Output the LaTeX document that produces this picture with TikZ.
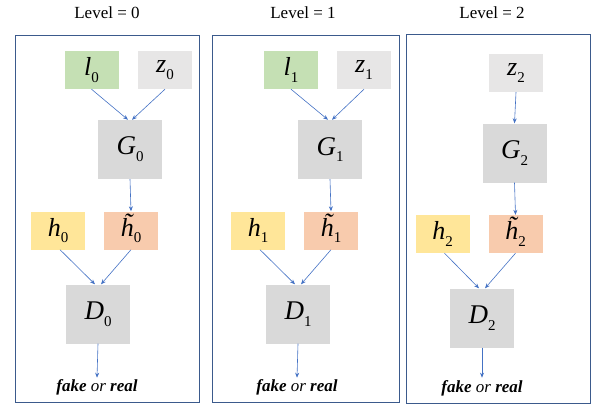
\documentclass[tikz,border=0pt]{standalone}
\usepackage{fontspec}
\setmainfont{Liberation Serif}
\usetikzlibrary{arrows.meta}
\definecolor{frameblue}{HTML}{3B5A8C}
\definecolor{arrblue}{HTML}{4472C4}
\definecolor{boxgreen}{HTML}{C5E0B4}
\definecolor{boxlight}{HTML}{E7E6E6}
\definecolor{boxgray}{HTML}{D9D9D9}
\definecolor{boxyellow}{HTML}{FFE699}
\definecolor{boxorange}{HTML}{F8CBAD}
\newcommand\subnum[1]{\raisebox{-0.25em}{\fontsize{15}{18}\selectfont #1}}
\newcommand\varsub[2]{\textit{#1}\subnum{#2}}
\newcommand\tildeh{\ooalign{\textit{h}\cr\hidewidth\kern0.12em\raisebox{0.2em}{\textit{\char"02DC}}\hidewidth\cr}}
\newcommand\tildesub[1]{\tildeh\subnum{#1}}
\begin{document}
\begin{tikzpicture}[x=1pt,y=-1pt,
  panel/.style={draw=frameblue,line width=0.9pt},
  smallbox/.style={minimum width=54pt,minimum height=38pt,inner sep=0pt,font=\fontsize{26}{30}\selectfont},
  bigbox/.style={fill=boxgray,minimum width=64pt,minimum height=59pt,inner sep=0pt,font=\fontsize{27}{30}\selectfont},
  lvl/.style={font=\fontsize{17}{20}\selectfont},
  verdict/.style={font=\fontsize{17}{20}\selectfont},
  conn/.style={draw=arrblue,line width=0.6pt,-{Stealth[length=5pt,width=4pt]}}]
\useasboundingbox (0,0) rectangle (591,405);
% frames
\draw[panel] (15,35) rectangle (199,402);
\draw[panel] (212,35) rectangle (399,402);
\draw[panel] (406,34) rectangle (590,403);
% titles
\node[lvl] (t0) at (107,13) {Level = 0};
\node[lvl] (t1) at (303,13) {Level = 1};
\node[lvl] (t2) at (492,13) {Level = 2};
% panel 0
\node[smallbox,fill=boxgreen] (l0) at (91.5,70) {\varsub{l}{0}};
\node[smallbox,fill=boxlight] (z0) at (165,70) {\varsub{z}{0}};
\node[bigbox] (G0) at (130,149.5) {\varsub{G}{0}};
\node[smallbox,fill=boxyellow] (h0) at (58,230.5) {\varsub{h}{0}};
\node[smallbox,fill=boxorange] (ht0) at (131,230.5) {\tildesub{0}};
\node[bigbox] (D0) at (98,314) {\varsub{D}{0}};
\node[verdict] (o0) at (97,387) {\textbf{\textit{fake}} \textit{or} \textbf{\textit{real}}};
\draw[conn] (l0.south) -- ([xshift=-2pt]G0.north);
\draw[conn] (z0.south) -- ([xshift=2pt]G0.north);
\draw[conn] (G0.south) -- (ht0.north);
\draw[conn] ([xshift=2pt]h0.south) -- ([xshift=-3pt]D0.north);
\draw[conn] (ht0.south) -- ([xshift=3pt]D0.north);
\draw[conn] (D0.south) -- ([yshift=-2pt]o0.north);
% panel 1
\node[smallbox,fill=boxgreen] (l1) at (291,70) {\varsub{l}{1}};
\node[smallbox,fill=boxlight] (z1) at (364,70) {\varsub{z}{1}};
\node[bigbox] (G1) at (330,149.5) {\varsub{G}{1}};
\node[smallbox,fill=boxyellow] (h1) at (258,230.5) {\varsub{h}{1}};
\node[smallbox,fill=boxorange] (ht1) at (331,230.5) {\tildesub{1}};
\node[bigbox] (D1) at (298,314) {\varsub{D}{1}};
\node[verdict] (o1) at (297,387) {\textbf{\textit{fake}} \textit{or} \textbf{\textit{real}}};
\draw[conn] (l1.south) -- ([xshift=-2pt]G1.north);
\draw[conn] (z1.south) -- ([xshift=2pt]G1.north);
\draw[conn] (G1.south) -- (ht1.north);
\draw[conn] ([xshift=2pt]h1.south) -- ([xshift=-3pt]D1.north);
\draw[conn] (ht1.south) -- ([xshift=3pt]D1.north);
\draw[conn] (D1.south) -- ([yshift=-2pt]o1.north);
% panel 2
\node[smallbox,fill=boxlight] (z2) at (516,73) {\varsub{z}{2}};
\node[bigbox] (G2) at (514.5,153) {\varsub{G}{2}};
\node[smallbox,fill=boxyellow] (h2) at (442.5,234) {\varsub{h}{2}};
\node[smallbox,fill=boxorange] (ht2) at (515.5,234) {\tildesub{2}};
\node[bigbox] (D2) at (482,318) {\varsub{D}{2}};
\node[verdict] (o2) at (482,388) {\textbf{\textit{fake}} \textit{or} \textbf{\textit{real}}};
\draw[conn] (z2.south) -- (G2.north);
\draw[conn] (G2.south) -- (ht2.north);
\draw[conn] ([xshift=2pt]h2.south) -- ([xshift=-3pt]D2.north);
\draw[conn] (ht2.south) -- ([xshift=3pt]D2.north);
\draw[conn] (D2.south) -- ([yshift=-1pt]o2.north);
\end{tikzpicture}
\end{document}
